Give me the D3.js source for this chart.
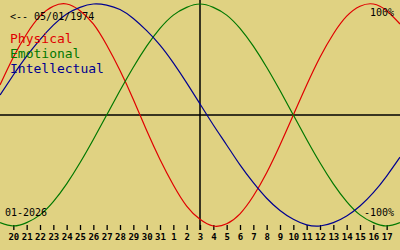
<!DOCTYPE html>
<html>
<head>
<meta charset="utf-8">
<script src="https://cdn.jsdelivr.net/npm/d3@7"></script>
<style>
  body { margin: 0; background: #e0d282; }
  svg { display: block; }
  text { font-family: "DejaVu Sans Mono", "Liberation Mono", monospace; }
</style>
</head>
<body>
<svg id="chart" width="400" height="250"></svg>
<script>
// day labels for positions 1..29 (Jan 20 .. Feb 17)
const dayLabels = ['20', '21', '22', '23', '24', '25', '26', '27', '28', '29', '30', '31',
    '1', '2', '3', '4', '5', '6', '7', '8', '9', '10', '11', '12', '13', '14', '15', '16', '17'];

// values read per day, positions 0..30
const physical = [0.27, 0.52, 0.73, 0.89, 0.98, 1.00, 0.94, 0.82, 0.63, 0.40, 0.14,
    -0.14, -0.40, -0.63, -0.82, -0.94, -1.00, -0.98, -0.89, -0.73, -0.52, -0.27,
    0.00, 0.27, 0.52, 0.73, 0.89, 0.98, 1.00, 0.94, 0.82];
const emotional = [-0.97, -1.00, -0.97, -0.90, -0.78, -0.62, -0.43, -0.22, 0.00, 0.22, 0.43,
    0.62, 0.78, 0.90, 0.97, 1.00, 0.97, 0.90, 0.78, 0.62, 0.43, 0.22,
    0.00, -0.22, -0.43, -0.62, -0.78, -0.90, -0.97, -1.00, -0.97];
const intellectual = [0.18, 0.36, 0.53, 0.68, 0.81, 0.91, 0.97, 1.00, 0.99, 0.95, 0.87,
    0.76, 0.63, 0.47, 0.29, 0.10, -0.09, -0.27, -0.45, -0.61, -0.75, -0.86,
    -0.94, -0.99, -1.00, -0.97, -0.91, -0.82, -0.70, -0.55, -0.38];

const legend = [
    { name: 'Physical', color: '#e00000', values: physical },
    { name: 'Emotional', color: '#007800', values: emotional },
    { name: 'Intellectual', color: '#000090', values: intellectual }
];

const svg = d3.select('#chart');
const x = d3.scaleLinear().domain([0, 30]).range([0, 400]);
const y = d3.scaleLinear().domain([-1, 1]).range([226, 4]);

// axes lines
svg.append('line')
    .attr('x1', 0).attr('x2', 400)
    .attr('y1', y(0)).attr('y2', y(0))
    .attr('stroke', '#000').attr('stroke-width', 1.5);

svg.append('line')
    .attr('x1', x(15)).attr('x2', x(15))
    .attr('y1', 0).attr('y2', 230)
    .attr('stroke', '#000').attr('stroke-width', 1.5);

// day ticks
const axis = d3.axisBottom(x)
    .tickValues(d3.range(1, 30))
    .tickFormat(d => dayLabels[d - 1])
    .tickSize(5)
    .tickPadding(4);

const axisG = svg.append('g')
    .attr('transform', 'translate(0,225)')
    .call(axis);
axisG.select('.domain').remove();
axisG.selectAll('line').attr('stroke-width', 1.3);
axisG.selectAll('text')
    .attr('font-family', '"DejaVu Sans Mono", monospace')
    .attr('font-size', 9)
    .attr('font-weight', 'bold')
    .attr('fill', '#000');

// curves
const line = d3.line()
    .x((d, i) => x(i))
    .y(d => y(d))
    .curve(d3.curveNatural);

svg.selectAll('path.curve')
    .data(legend)
    .enter()
    .append('path')
    .attr('class', 'curve')
    .attr('d', d => line(d.values))
    .attr('fill', 'none')
    .attr('stroke', d => d.color)
    .attr('stroke-width', 1.2);

// texts
svg.append('text')
    .attr('x', 10).attr('y', 20)
    .attr('font-size', 10)
    .text('<-- 05/01/1974');

svg.selectAll('text.legend')
    .data(legend)
    .enter()
    .append('text')
    .attr('class', 'legend')
    .attr('x', 10)
    .attr('y', (d, i) => 43 + i * 15)
    .attr('font-size', 13)
    .attr('fill', d => d.color)
    .text(d => d.name);

svg.append('text')
    .attr('x', 394).attr('y', 16)
    .attr('text-anchor', 'end')
    .attr('font-size', 10)
    .text('100%');

svg.append('text')
    .attr('x', 394).attr('y', 216)
    .attr('text-anchor', 'end')
    .attr('font-size', 10)
    .text('-100%');

svg.append('text')
    .attr('x', 5).attr('y', 216)
    .attr('font-size', 10)
    .text('01-2026');
</script>
</body>
</html>
